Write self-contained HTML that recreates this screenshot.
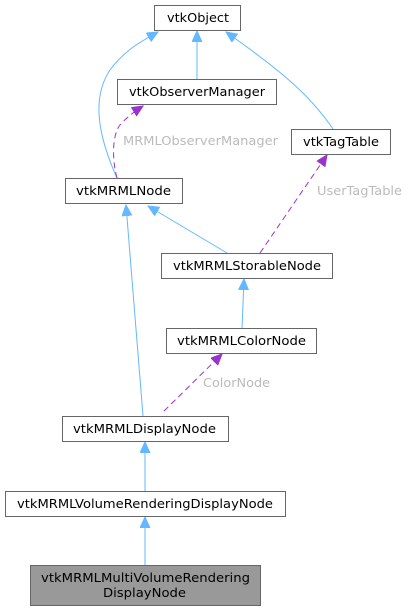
<!DOCTYPE html>
<html><head><style>body{margin:0;background:#fff}svg{display:block}</style></head><body>
<svg width="409" height="611" viewBox="0 0 409 611" xmlns="http://www.w3.org/2000/svg" font-family="DejaVu Sans, Liberation Sans, sans-serif" font-size="12">
<defs>
<marker id="b" markerWidth="12" markerHeight="12" refX="11" refY="5" orient="auto" markerUnits="userSpaceOnUse"><path d="M0,0 L11,5 L0,10 z" fill="#63b8ff" stroke="#63b8ff"/></marker>
<marker id="p" markerWidth="12" markerHeight="12" refX="11" refY="5" orient="auto" markerUnits="userSpaceOnUse"><path d="M0,0 L11,5 L0,10 z" fill="#9a32cd" stroke="#9a32cd"/></marker>
</defs>
<g fill="none" stroke="#63b8ff" stroke-width="1">
<path d="M197,79 L197,31" marker-end="url(#b)"/>
<path d="M117,178 C100,140 90,100 110,70 C125,50 140,42 158,32" marker-end="url(#b)"/>
<path d="M333,129 C310,95 280,70 226,32" marker-end="url(#b)"/>
<path d="M227,253 L148,206" marker-end="url(#b)"/>
<path d="M143,416 L126,205" marker-end="url(#b)"/>
<path d="M242,328 L244,279" marker-end="url(#b)"/>
<path d="M145,491 L145,442" marker-end="url(#b)"/>
<path d="M145,565 L145,517" marker-end="url(#b)"/>
</g>
<g fill="none" stroke="#9a32cd" stroke-width="1" stroke-dasharray="6,4">
<path d="M117,178 C112,160 112,135 120,125 C126,118 135,111 143,106" marker-end="url(#p)"/>
<path d="M260,253 L327,155" marker-end="url(#p)"/>
<path d="M164,411 L222,354" marker-end="url(#p)"/>
</g>
<g stroke="#666" stroke-width="1" fill="#fff">
<rect x="154.5" y="5.5" width="86" height="25"/>
<rect x="117.5" y="79.5" width="159" height="25"/>
<rect x="291.5" y="129.5" width="99" height="25"/>
<rect x="65.5" y="178.5" width="117" height="25"/>
<rect x="161.5" y="253.5" width="171" height="25"/>
<rect x="166.5" y="328.5" width="150" height="25"/>
<rect x="62.5" y="416.5" width="166" height="25"/>
<rect x="5.5" y="491.5" width="280" height="25"/>
<rect x="30.5" y="565.5" width="230" height="40" fill="#999"/>
</g>
<g fill="#000" lengthAdjust="spacingAndGlyphs">
<text x="167" y="22" textLength="62" lengthAdjust="spacingAndGlyphs">vtkObject</text>
<text x="129" y="96" textLength="136" lengthAdjust="spacingAndGlyphs">vtkObserverManager</text>
<text x="303" y="146" textLength="76" lengthAdjust="spacingAndGlyphs">vtkTagTable</text>
<text x="76" y="195" textLength="95" lengthAdjust="spacingAndGlyphs">vtkMRMLNode</text>
<text x="173" y="270" textLength="148" lengthAdjust="spacingAndGlyphs">vtkMRMLStorableNode</text>
<text x="177" y="345" textLength="129" lengthAdjust="spacingAndGlyphs">vtkMRMLColorNode</text>
<text x="73" y="433" textLength="143" lengthAdjust="spacingAndGlyphs">vtkMRMLDisplayNode</text>
<text x="17" y="508" textLength="256" lengthAdjust="spacingAndGlyphs">vtkMRMLVolumeRenderingDisplayNode</text>
<text x="41" y="582" textLength="209" lengthAdjust="spacingAndGlyphs">vtkMRMLMultiVolumeRendering</text>
<text x="103" y="597" textLength="83" lengthAdjust="spacingAndGlyphs">DisplayNode</text>
</g>
<g fill="#bbb">
<text x="123" y="145" textLength="155" lengthAdjust="spacingAndGlyphs">MRMLObserverManager</text>
<text x="317" y="195" textLength="85" lengthAdjust="spacingAndGlyphs">UserTagTable</text>
<text x="203" y="387" textLength="67" lengthAdjust="spacingAndGlyphs">ColorNode</text>
</g>
</svg>
</body></html>
